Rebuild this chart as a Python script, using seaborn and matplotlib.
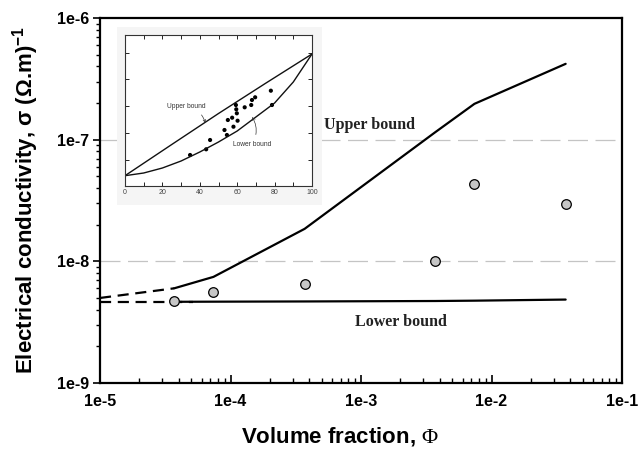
import numpy as np
import pandas as pd
import seaborn as sns
import matplotlib
matplotlib.use("Agg")
import matplotlib.pyplot as plt
from matplotlib.patches import Rectangle
from matplotlib.ticker import FixedLocator, FixedFormatter, LogLocator, NullFormatter

# ---------------- data ----------------
phi_meas = [3.7e-5, 7.4e-5, 3.7e-4, 3.7e-3, 7.4e-3, 3.7e-2]
sigma_meas = [4.75e-9, 5.65e-9, 6.5e-9, 1.0e-8, 4.3e-8, 2.95e-8]

phi_upper = [3.7e-5, 7.4e-5, 3.7e-4, 3.7e-3, 7.4e-3, 3.7e-2]
sigma_upper = [6.0e-9, 7.45e-9, 1.85e-8, 1.15e-7, 1.97e-7, 4.2e-7]

phi_lower = [3.7e-5, 7.4e-5, 3.7e-4, 3.7e-3, 7.4e-3, 3.7e-2]
sigma_lower = [4.65e-9, 4.66e-9, 4.68e-9, 4.72e-9, 4.75e-9, 4.85e-9]

phi_upper_ext = [1e-5, 3.7e-5]
sigma_upper_ext = [5.0e-9, 6.0e-9]
phi_lower_ext = [1e-5, 5.2e-5]
sigma_lower_ext = [4.65e-9, 4.65e-9]

grid_levels = [1e-8, 1e-7]
x_ticks = [1e-5, 1e-4, 1e-3, 1e-2, 1e-1]
x_ticklabels = ["1e-5", "1e-4", "1e-3", "1e-2", "1e-1"]
y_ticks = [1e-9, 1e-8, 1e-7, 1e-6]
y_ticklabels = ["1e-9", "1e-8", "1e-7", "1e-6"]

# inset (volume % vs. scanned ordinate units)
inset_x_upper = [0, 25, 50, 75, 100]
inset_y_upper = [10.3, 41.5, 72.5, 102.5, 132]
inset_x_lower = [0, 10, 20, 30, 40, 50, 60, 70, 80, 90, 100]
inset_y_lower = [10.3, 13, 18, 25, 34, 44, 55, 69, 83, 104, 132]
inset_pts_x = [34.8, 43.4, 45.5, 53.2, 54.5, 55.0, 57.3, 58.0, 59.3, 59.5, 59.8,
               60.2, 64.0, 67.5, 67.9, 69.6, 78.0, 78.6]
inset_pts_y = [31, 36.7, 46, 56, 51, 66, 68.3, 59.3, 81, 76.7, 72.7,
               65.3, 78.7, 81, 86, 88.7, 95.3, 81]
inset_xticks = [0, 20, 40, 60, 80, 100]

# ---------------- figure ----------------
sns.set_theme(style="white")
plt.rcParams["font.family"] = ["Liberation Sans", "DejaVu Sans"]
plt.rcParams["text.color"] = "black"
plt.rcParams["xtick.color"] = "black"
plt.rcParams["ytick.color"] = "black"
plt.rcParams["mathtext.fontset"] = "custom"
plt.rcParams["mathtext.rm"] = "Liberation Serif"
plt.rcParams["mathtext.bf"] = "Liberation Sans:bold"

W, H = 641, 459
fig = plt.figure(figsize=(W / 100, H / 100), dpi=100)
fig.patch.set_facecolor("white")

def fa(l, r, t, b):
    return [l / W, 1 - b / H, (r - l) / W, (b - t) / H]

ax = fig.add_axes(fa(100, 622, 18, 383))
ax.set_facecolor("white")
ax.set_xscale("log")
ax.set_yscale("log")
ax.set_xlim(1e-5, 1e-1)
ax.set_ylim(1e-9, 1e-6)

for g in grid_levels:
    ax.axhline(g, color="#c4c4c4", lw=0.9, ls=(0, (16, 6)), zorder=1)

df_up = pd.DataFrame({"phi": phi_upper, "sigma": sigma_upper})
df_lo = pd.DataFrame({"phi": phi_lower, "sigma": sigma_lower})
df_upx = pd.DataFrame({"phi": phi_upper_ext, "sigma": sigma_upper_ext})
df_lox = pd.DataFrame({"phi": phi_lower_ext, "sigma": sigma_lower_ext})
df_m = pd.DataFrame({"phi": phi_meas, "sigma": sigma_meas})

sns.lineplot(data=df_up, x="phi", y="sigma", ax=ax, color="black", lw=1.6, zorder=3, sort=False)
sns.lineplot(data=df_lo, x="phi", y="sigma", ax=ax, color="black", lw=1.6, zorder=3, sort=False)
sns.lineplot(data=df_upx, x="phi", y="sigma", ax=ax, color="black", lw=1.6,
             ls=(0, (5, 3)), zorder=3, sort=False)
sns.lineplot(data=df_lox, x="phi", y="sigma", ax=ax, color="black", lw=1.6,
             ls=(0, (5, 3)), zorder=3, sort=False)
sns.scatterplot(data=df_m, x="phi", y="sigma", ax=ax, s=48, color="#c6c6c6",
                edgecolor="black", linewidth=0.9, zorder=4)

ax.text(1.17e-3, 1.32e-7, "Upper bound", family=["Liberation Serif"], weight="bold",
        fontsize=11.5, ha="center", va="center", color="#222222")
ax.text(2.03e-3, 3.18e-9, "Lower bound", family=["Liberation Serif"], weight="bold",
        fontsize=11.5, ha="center", va="center", color="#222222")

for s in ax.spines.values():
    s.set_visible(True)
    s.set_color("black")
    s.set_linewidth(1.6)

ax.xaxis.set_major_locator(FixedLocator(x_ticks))
ax.xaxis.set_major_formatter(FixedFormatter(x_ticklabels))
ax.xaxis.set_minor_locator(LogLocator(base=10, subs=np.arange(2, 10)))
ax.xaxis.set_minor_formatter(NullFormatter())
ax.yaxis.set_major_locator(FixedLocator(y_ticks))
ax.yaxis.set_major_formatter(FixedFormatter(y_ticklabels))
ax.yaxis.set_minor_locator(LogLocator(base=10, subs=np.arange(2, 10)))
ax.yaxis.set_minor_formatter(NullFormatter())

ax.tick_params(axis="x", which="major", direction="in", length=6, width=1.2, pad=8,
               bottom=True, labelsize=11.5, labelcolor="black")
ax.tick_params(axis="x", which="minor", direction="in", length=3.5, width=1, bottom=True)
ax.tick_params(axis="y", which="major", direction="out", length=5, width=1.2, pad=3,
               left=True, labelsize=11.5, labelcolor="black")
ax.tick_params(axis="y", which="minor", direction="out", length=3, width=1, left=True)
for lab in ax.get_xticklabels() + ax.get_yticklabels():
    lab.set_fontweight("bold")

ax.set_xlabel("")
ax.set_ylabel("")
fig.text(340 / W, 1 - 437 / H, "Volume fraction, $\\mathrm{\\Phi}$", ha="center", va="center",
         fontsize=16, weight="bold", color="black")
fig.text(26 / W, 1 - 200 / H, "Electrical conductivity, σ (Ω.m)$^{\\mathbf{-1}}$",
         ha="center", va="center", rotation=90, fontsize=16, weight="bold", color="black")

# ---------------- inset ----------------
bg = Rectangle((117 / W, 1 - 205 / H), (322 - 117) / W, (205 - 27) / H,
               transform=fig.transFigure, facecolor="#f5f5f5", edgecolor="none", zorder=1)
fig.add_artist(bg)

ins = fig.add_axes(fa(125, 312, 35, 186))
ins.set_zorder(2)
ins.set_facecolor("white")
ins.set_xlim(0, 100)
ins.set_ylim(0, 151)
df_iu = pd.DataFrame({"x": inset_x_upper, "y": inset_y_upper})
df_il = pd.DataFrame({"x": inset_x_lower, "y": inset_y_lower})
df_ip = pd.DataFrame({"x": inset_pts_x, "y": inset_pts_y})
sns.lineplot(data=df_iu, x="x", y="y", ax=ins, color="#111111", lw=1.0, sort=False)
sns.lineplot(data=df_il, x="x", y="y", ax=ins, color="#111111", lw=1.0, sort=False)
sns.scatterplot(data=df_ip, x="x", y="y", ax=ins, s=9, color="black", edgecolor="none")
ins.annotate("Upper bound", xy=(43, 63), xytext=(33, 80), fontsize=4.8, color="#333333",
             ha="center", va="center",
             arrowprops=dict(arrowstyle="->", lw=0.5, color="#333333",
                             connectionstyle="arc3,rad=-0.3", shrinkA=2, shrinkB=0))
ins.annotate("Lower bound", xy=(68, 69), xytext=(68, 42), fontsize=4.8, color="#333333",
             ha="center", va="center",
             arrowprops=dict(arrowstyle="->", lw=0.5, color="#333333",
                             connectionstyle="arc3,rad=0.3", shrinkA=2, shrinkB=0))
ins.set_xlabel("")
ins.set_ylabel("")
ins.set_xticks(inset_xticks)
ins.set_xticklabels([str(v) for v in inset_xticks])
ins.set_xticks(np.arange(10, 100, 20), minor=True)
ins.set_yticks([26, 53, 80, 107, 133])
ins.set_yticklabels([])
ins.tick_params(axis="both", which="both", direction="in", length=3, width=0.6,
                top=True, right=True, left=True, bottom=True, labelsize=5, pad=2,
                labelcolor="#444444")
for s in ins.spines.values():
    s.set_visible(True)
    s.set_color("#333333")
    s.set_linewidth(0.8)

fig.savefig("out.png", dpi=100)
